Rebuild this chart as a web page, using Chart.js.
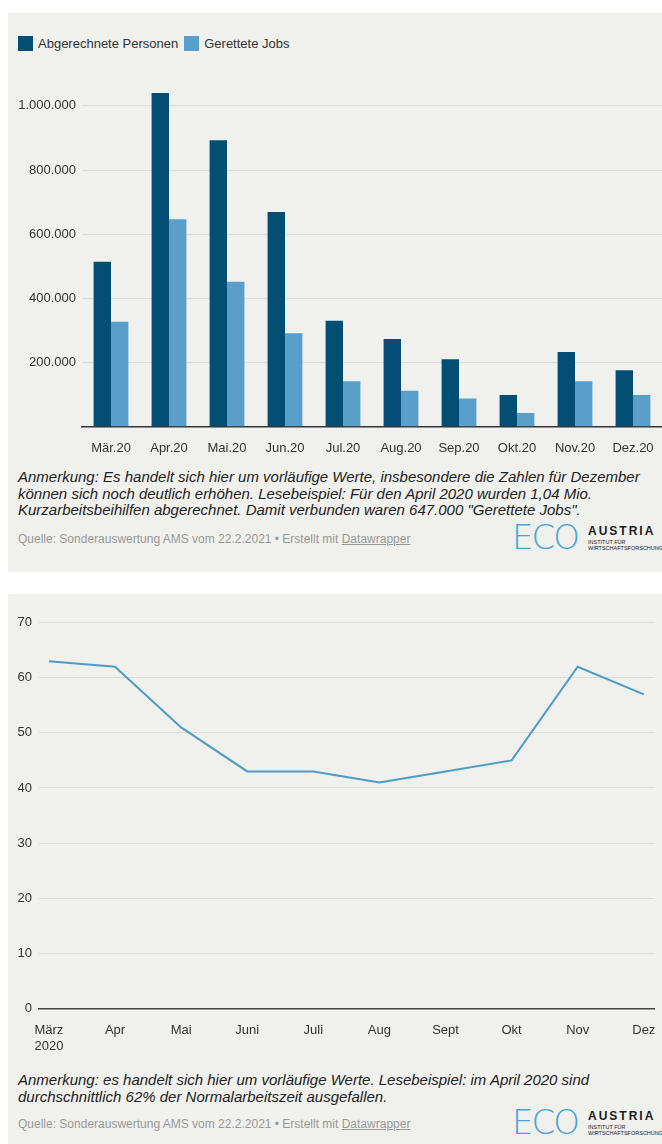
<!DOCTYPE html>
<html>
<head>
<meta charset="utf-8">
<script src="https://cdn.jsdelivr.net/npm/chart.js@4"></script>
<style>
body { margin:0; background:#fff; font-family:"Liberation Sans", Arial, sans-serif; width:662px; height:1144px; position:relative; overflow:hidden; }
.panel { position:absolute; left:8px; width:654px; background:#f0f0ed; overflow:hidden; }
#p1 { top:13px; height:559px; }
#p2 { top:594px; height:550px; }
canvas { position:absolute; left:0; }
.legend { position:absolute; left:10px; top:23px; display:flex; font-size:13px; color:#333; line-height:15px; }
.legend span { display:flex; align-items:center; margin-right:6px; }
.legend i { display:inline-block; width:15px; height:15px; margin-right:5px; }
.note { position:absolute; left:10px; width:640px; font-size:15px; line-height:16.5px; font-style:italic; color:#222; }
.src { position:absolute; left:10px; font-size:12px; color:#999; line-height:14px; }
.src u { color:#999; }
.eco { position:absolute; left:504px; font-family:"DejaVu Sans", sans-serif; font-weight:200; font-size:34px; line-height:34px; color:#4aa5d4; letter-spacing:-2px; }
.aus { position:absolute; left:580px; color:#1b1b1b; }
.aus b { display:block; font-size:12px; line-height:12px; letter-spacing:2px; }
.aus small { display:block; font-size:5.5px; line-height:5.6px; margin-top:3px; white-space:nowrap; }
</style>
</head>
<body>
<div class="panel" id="p1">
  <div class="legend" id="legend1"></div>
  <canvas id="bars" width="654" height="400" style="top:47px"></canvas>
  <div class="note" style="top:456px">Anmerkung: Es handelt sich hier um vorläufige Werte, insbesondere die Zahlen für Dezember können sich noch deutlich erhöhen. Lesebeispiel: Für den April 2020 wurden 1,04 Mio. Kurzarbeitsbeihilfen abgerechnet. Damit verbunden waren 647.000 "Gerettete Jobs".</div>
  <div class="src" style="top:519px">Quelle: Sonderauswertung AMS vom 22.2.2021 • Erstellt mit <u>Datawrapper</u></div>
  <div class="eco" style="top:507px">ECO</div>
  <div class="aus" style="top:512px"><b>AUSTRIA</b><small>INSTITUT FÜR<br>WIRTSCHAFTSFORSCHUNG</small></div>
</div>
<div class="panel" id="p2">
  <canvas id="line" width="654" height="448" style="top:11px"></canvas>
  <div class="note" style="top:478px">Anmerkung: es handelt sich hier um vorläufige Werte. Lesebeispiel: im April 2020 sind durchschnittlich 62% der Normalarbeitszeit ausgefallen.</div>
  <div class="src" style="top:523px">Quelle: Sonderauswertung AMS vom 22.2.2021 • Erstellt mit <u>Datawrapper</u></div>
  <div class="eco" style="top:511px">ECO</div>
  <div class="aus" style="top:516px"><b>AUSTRIA</b><small>INSTITUT FÜR<br>WIRTSCHAFTSFORSCHUNG</small></div>
</div>
<script>
// Kurzarbeit: abgerechnete Personen und gerettete Jobs
const barMonths = ['Mär.20', 'Apr.20', 'Mai.20', 'Jun.20', 'Jul.20', 'Aug.20', 'Sep.20', 'Okt.20', 'Nov.20', 'Dez.20'];
const personen = [514000, 1040000, 893000, 669000, 330000, 273000, 210000, 99000, 233000, 176000];
const jobs = [327000, 647000, 452000, 291000, 142000, 112000, 88000, 43000, 142000, 99000];
const barTicks = [0, 200000, 400000, 600000, 800000, 1000000];
const seriesNames = ['Abgerechnete Personen', 'Gerettete Jobs'];
const seriesColors = ['#034f73', '#5a9fca'];

// Ausgefallene Arbeitszeit in %
const lineMonths = [['März', '2020'], 'Apr', 'Mai', 'Juni', 'Juli', 'Aug', 'Sept', 'Okt', 'Nov', 'Dez'];
const ausfall = [63, 62, 51, 43, 43, 41, 43, 45, 62, 57];
const lineTicks = [0, 10, 20, 30, 40, 50, 60, 70];
const lineColor = '#4e9bc7';

Chart.defaults.font.family = '"Liberation Sans", Arial, sans-serif';
Chart.defaults.font.size = 13;
Chart.defaults.color = '#333';

const fmt = v => String(v).replace(/\B(?=(\d{3})+(?!\d))/g, '.');

// HTML-Legende
document.getElementById('legend1').innerHTML = seriesNames.map((n, i) =>
    `<span><i style="background:${seriesColors[i]}"></i>${n}</span>`).join('');

new Chart(document.getElementById('bars'), {
    type: 'bar',
    data: {
        labels: barMonths,
        datasets: [
            { label: seriesNames[0], data: personen, backgroundColor: seriesColors[0] },
            { label: seriesNames[1], data: jobs, backgroundColor: seriesColors[1] }
        ]
    },
    options: {
        responsive: false,
        animation: false,
        categoryPercentage: 0.6,
        barPercentage: 1.0,
        layout: { padding: { top: 13.6, bottom: 0, left: 0, right: 0 } },
        plugins: { legend: { display: false }, tooltip: { enabled: false } },
        scales: {
            x: {
                grid: { display: false },
                border: { color: '#333', width: 1.5 },
                ticks: { padding: 5.5, maxRotation: 0, autoSkip: false },
                afterFit: s => { s.height = 33.3; }
            },
            y: {
                min: 0, max: 1100000,
                afterBuildTicks: s => { s.ticks = barTicks.map(v => ({ value: v })); },
                ticks: { padding: 6, callback: v => v === 0 ? '' : fmt(v) },
                grid: { color: '#dcdcda', drawTicks: false },
                border: { display: false },
                afterFit: s => { s.width = 74; }
            }
        }
    }
});

new Chart(document.getElementById('line'), {
    type: 'line',
    data: {
        datasets: [{
            data: ausfall.map((v, i) => ({ x: i, y: v })),
            borderColor: lineColor,
            borderWidth: 2,
            pointRadius: 0,
            tension: 0
        }]
    },
    options: {
        responsive: false,
        animation: false,
        layout: { padding: { top: 17.7, bottom: 0, left: 0, right: 2 } },
        plugins: { legend: { display: false }, tooltip: { enabled: false } },
        scales: {
            x: {
                type: 'linear',
                min: -0.15, max: 9.16,
                afterBuildTicks: s => { s.ticks = lineMonths.map((_, i) => ({ value: i })); },
                ticks: { padding: 6.6, maxRotation: 0, autoSkip: false, callback: v => lineMonths[v] },
                grid: { display: false },
                border: { color: '#444', width: 1.5 },
                afterFit: s => { s.height = 44.7; }
            },
            y: {
                min: 0, max: 70,
                afterBuildTicks: s => { s.ticks = lineTicks.map(v => ({ value: v })); },
                ticks: { padding: 7 },
                grid: { color: '#dcdcda', drawTicks: false },
                border: { display: false },
                afterFit: s => { s.width = 31; }
            }
        }
    }
});
</script>
</body>
</html>
